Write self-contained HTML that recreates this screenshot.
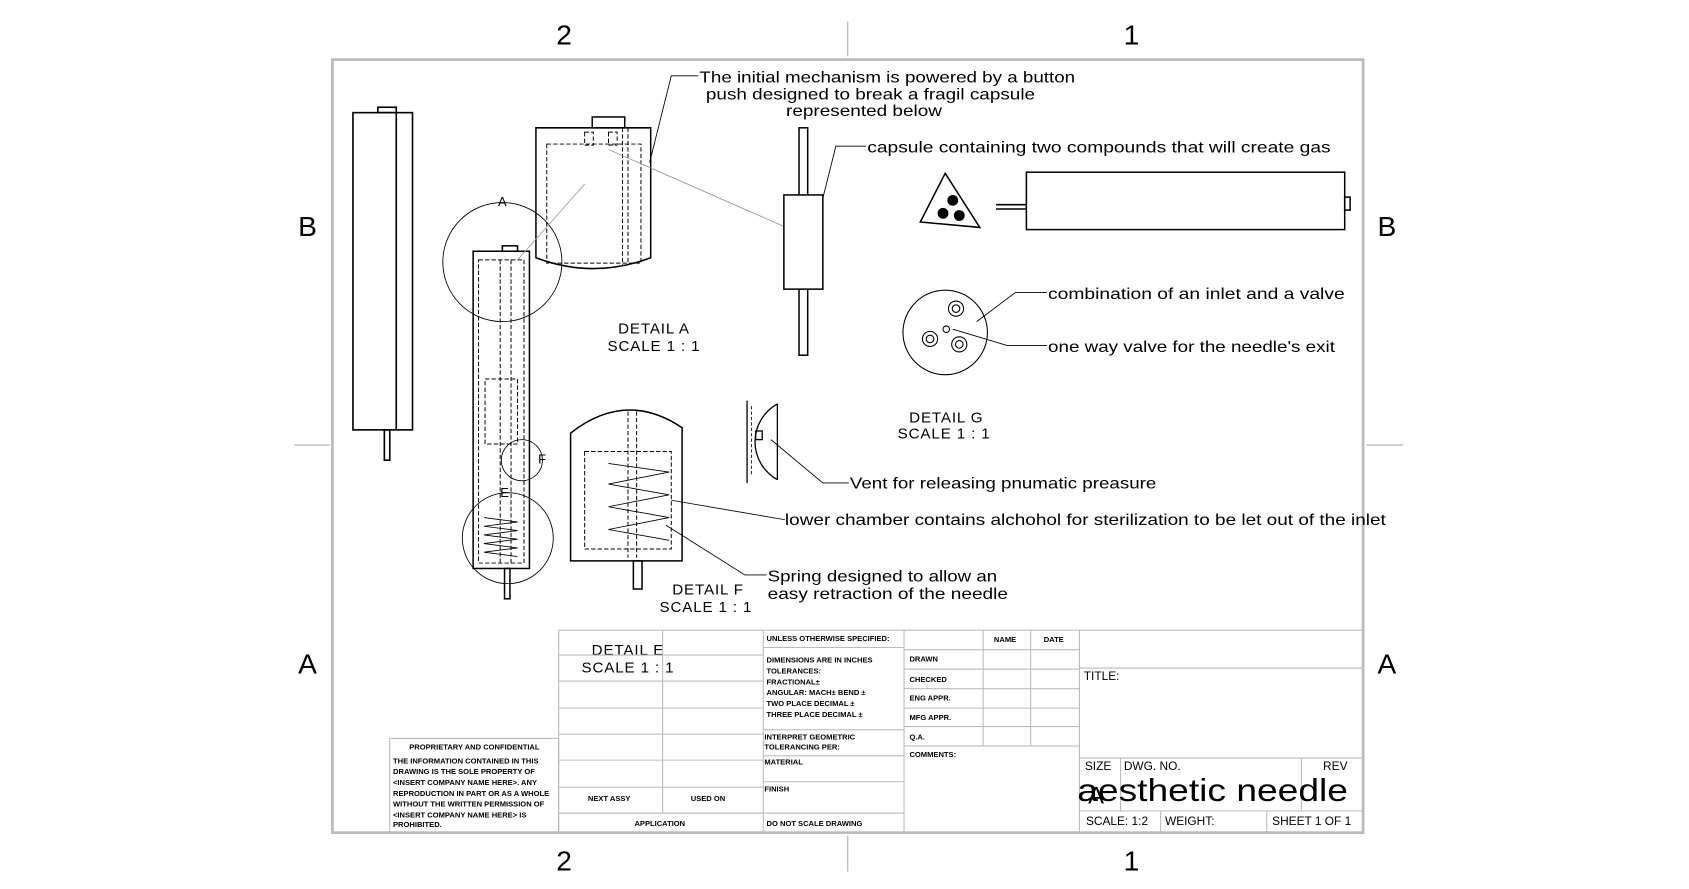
<!DOCTYPE html>
<html><head><style>
html,body{margin:0;padding:0;background:#fff;}
svg{display:block;}
text{font-family:"Liberation Sans",sans-serif;fill:#000;}
</style></head><body>
<svg width="1689" height="889" viewBox="0 0 1560 821" xmlns="http://www.w3.org/2000/svg">
<rect width="1560" height="821" fill="#fff"/>
<g stroke="#aaa" stroke-width="1">
<line x1="783" y1="20" x2="783" y2="52"/><line x1="783" y1="772" x2="783" y2="805"/>
<line x1="272" y1="411" x2="305" y2="411"/><line x1="1262" y1="411" x2="1296" y2="411"/>
</g>
<g font-size="26" text-anchor="middle">
<text x="521" y="41">2</text><text x="1045" y="41">1</text>
<text x="521" y="804">2</text><text x="1045" y="804">1</text>
<text x="284" y="218">B</text><text x="1281" y="218">B</text>
<text x="284" y="622">A</text><text x="1281" y="622">A</text>
</g>
<rect x="307" y="55" width="952" height="714" fill="none" stroke="#bbb" stroke-width="2.5"/>

<g fill="none" stroke="#000" stroke-width="1.5">
<rect x="326" y="104" width="55" height="293"/>
<line x1="366" y1="104" x2="366" y2="397"/>
<rect x="349" y="99" width="17" height="5"/>
<rect x="355" y="397" width="5" height="28"/>
</g>
<g fill="none" stroke="#000" stroke-width="1.4">
<rect x="437" y="232" width="52" height="293"/>
<rect x="464" y="227" width="14" height="5"/>
<rect x="466" y="525" width="5" height="28"/>
</g>
<g fill="none" stroke="#000" stroke-width="0.9" stroke-dasharray="4,2">
<rect x="442" y="240" width="42" height="280"/>
<line x1="462" y1="240" x2="462" y2="520"/>
<line x1="472" y1="240" x2="472" y2="520"/>
<rect x="448" y="350" width="30" height="60"/>
</g>
<g fill="none" stroke="#000" stroke-width="0.8">
<path d="M447 478 L478 482 L447 486 L478 490 L447 494 L478 498 L447 502 L478 506 L447 510 L478 514"/>
<circle cx="464" cy="242" r="55"/>
<circle cx="469" cy="497" r="42"/>
<circle cx="482" cy="425" r="19"/>
</g>
<text x="460" y="190" font-size="12">A</text>
<text x="462" y="459" font-size="12">E</text>
<text x="497" y="428" font-size="12">F</text>

<g fill="none" stroke="#000" stroke-width="1.4">
<path d="M495 118 L601 118 L601 238 Q548 258 495 238 Z"/>
<rect x="547" y="108" width="30" height="10"/>
</g>
<g fill="none" stroke="#000" stroke-width="0.9" stroke-dasharray="4,2">
<rect x="505" y="133" width="87" height="110"/>
<line x1="575" y1="118" x2="575" y2="245"/>
<line x1="580" y1="118" x2="580" y2="245"/>
<rect x="540" y="122" width="8" height="12"/><rect x="562" y="122" width="8" height="12"/>
</g>
<line x1="540" y1="170" x2="478" y2="240" stroke="#999" stroke-width="0.8"/>
<line x1="562" y1="138" x2="733" y2="213" stroke="#999" stroke-width="0.8"/>
<g font-size="14" text-anchor="middle" letter-spacing="0.8">
<text x="604" y="308">DETAIL A</text><text x="604" y="324">SCALE 1 : 1</text>
<text x="654" y="549">DETAIL F</text><text x="652" y="565">SCALE 1 : 1</text>
<text x="580" y="605">DETAIL E</text><text x="580" y="621">SCALE 1 : 1</text>
<text x="874" y="390">DETAIL G</text><text x="872" y="405">SCALE 1 : 1</text>
</g>
<polyline points="600,150 620,70 645,70" fill="none" stroke="#000" stroke-width="0.8"/>
<g font-size="14.5" lengthAdjust="spacingAndGlyphs">
<text x="646" y="76" textLength="347" lengthAdjust="spacingAndGlyphs">The initial mechanism is powered by a button</text>
<text x="652" y="92" textLength="304" lengthAdjust="spacingAndGlyphs">push designed to break a fragil capsule</text>
<text x="726" y="107" textLength="144" lengthAdjust="spacingAndGlyphs">represented below</text>
</g>
<g fill="none" stroke="#000" stroke-width="1.4">
<rect x="738" y="118" width="8" height="210"/>
<rect x="724" y="180" width="36" height="87" fill="#fff"/>
</g>
<polyline points="760,183 772,135 800,135" fill="none" stroke="#000" stroke-width="0.8"/>
<text x="801" y="141" font-size="14.5" textLength="428" lengthAdjust="spacingAndGlyphs">capsule containing two compounds that will create gas</text>
<g fill="none" stroke="#000" stroke-width="1.4">
<rect x="948" y="159" width="294" height="53"/>
<rect x="1242" y="182" width="5" height="12"/>
<line x1="920" y1="189" x2="948" y2="189"/><line x1="920" y1="193" x2="948" y2="193"/>
<polygon points="873,160 850,205 905,210"/>
</g>
<g fill="#000"><circle cx="880" cy="185" r="5"/><circle cx="871" cy="197" r="5"/><circle cx="886" cy="199" r="5"/></g>
<g fill="none" stroke="#000" stroke-width="1">
<circle cx="873" cy="307" r="39"/>
<circle cx="883" cy="285" r="7"/><circle cx="883" cy="285" r="3.5"/>
<circle cx="859" cy="313" r="7"/><circle cx="859" cy="313" r="3.5"/>
<circle cx="886" cy="318" r="7"/><circle cx="886" cy="318" r="3.5"/>
<circle cx="874" cy="304" r="3"/>
</g>
<polyline points="902,297 938,270 967,270" fill="none" stroke="#000" stroke-width="0.8"/>
<polyline points="880,304 930,319 967,319" fill="none" stroke="#000" stroke-width="0.8"/>
<g font-size="14.5">
<text x="968" y="276" textLength="274" lengthAdjust="spacingAndGlyphs">combination of an inlet and a valve</text>
<text x="968" y="325" textLength="265" lengthAdjust="spacingAndGlyphs">one way valve for the needle's exit</text>
<text x="785" y="451" textLength="283" lengthAdjust="spacingAndGlyphs">Vent for releasing pnumatic preasure</text>
<text x="725" y="485" textLength="555" lengthAdjust="spacingAndGlyphs">lower chamber contains alchohol  for sterilization to be let out of the inlet</text>
<text x="709" y="537" textLength="212" lengthAdjust="spacingAndGlyphs">Spring designed to allow an</text>
<text x="709" y="553" textLength="222" lengthAdjust="spacingAndGlyphs">easy retraction of the needle</text>
</g>
<g fill="none" stroke="#000" stroke-width="1.2">
<path d="M718 373 A40 40 0 0 0 718 443"/>
<line x1="718" y1="373" x2="718" y2="443"/>
<line x1="690" y1="370" x2="690" y2="446"/>
<rect x="698" y="398" width="6" height="8"/>
</g>
<line x1="694" y1="375" x2="694" y2="440" stroke="#000" stroke-width="0.8" stroke-dasharray="3,2"/>
<polyline points="712,406 760,446 784,446" fill="none" stroke="#000" stroke-width="0.8"/>
<g fill="none" stroke="#000" stroke-width="1.4">
<path d="M527 400 Q578 360 630 395 L630 518 L527 518 Z"/>
<rect x="585" y="518" width="8" height="26"/>
</g>
<g fill="none" stroke="#000" stroke-width="0.9" stroke-dasharray="4,2">
<rect x="540" y="417" width="80" height="90"/>
<line x1="580" y1="380" x2="580" y2="515"/><line x1="588" y1="380" x2="588" y2="515"/>
</g>
<path d="M562 428 L618 436 L562 447 L618 457 L562 468 L618 478 L562 489 L618 499" fill="none" stroke="#000" stroke-width="0.8"/>
<line x1="620" y1="462" x2="725" y2="480" stroke="#000" stroke-width="0.8"/>
<polyline points="615,485 688,531 708,531" fill="none" stroke="#000" stroke-width="0.8"/>

<g fill="none" stroke="#bbb" stroke-width="1">
<rect x="516" y="582" width="743" height="187"/>
<line x1="705" y1="582" x2="705" y2="769"/>
<line x1="835" y1="582" x2="835" y2="769"/>
<line x1="997" y1="582" x2="997" y2="769"/>
<line x1="612" y1="582" x2="612" y2="751"/>
<line x1="516" y1="605" x2="705" y2="605"/><line x1="516" y1="629" x2="705" y2="629"/>
<line x1="516" y1="654" x2="705" y2="654"/><line x1="516" y1="678" x2="705" y2="678"/>
<line x1="516" y1="702" x2="705" y2="702"/><line x1="516" y1="727" x2="705" y2="727"/>
<line x1="516" y1="751" x2="705" y2="751"/>
<line x1="705" y1="598" x2="835" y2="598"/><line x1="705" y1="674" x2="835" y2="674"/>
<line x1="705" y1="698" x2="835" y2="698"/><line x1="705" y1="722" x2="835" y2="722"/>
<line x1="705" y1="751" x2="835" y2="751"/>
<line x1="908" y1="582" x2="908" y2="689"/><line x1="952" y1="582" x2="952" y2="689"/>
<line x1="835" y1="600" x2="997" y2="600"/><line x1="835" y1="618" x2="997" y2="618"/>
<line x1="835" y1="636" x2="997" y2="636"/><line x1="835" y1="654" x2="997" y2="654"/>
<line x1="835" y1="671" x2="997" y2="671"/><line x1="835" y1="689" x2="997" y2="689"/>
<line x1="997" y1="617" x2="1259" y2="617"/><line x1="997" y1="700" x2="1259" y2="700"/>
<line x1="997" y1="749" x2="1259" y2="749"/>
<line x1="1035" y1="700" x2="1035" y2="749"/><line x1="1202" y1="700" x2="1202" y2="749"/>
<line x1="1072" y1="749" x2="1072" y2="769"/><line x1="1170" y1="749" x2="1170" y2="769"/>
<rect x="360" y="682" width="156" height="87"/>
</g>
<g font-size="7" font-weight="bold">
<text x="708" y="592">UNLESS OTHERWISE SPECIFIED:</text>
<text x="708" y="612">DIMENSIONS ARE IN INCHES</text>
<text x="708" y="622">TOLERANCES:</text>
<text x="708" y="632">FRACTIONAL±</text>
<text x="708" y="642">ANGULAR: MACH±   BEND  ±</text>
<text x="708" y="652">TWO PLACE DECIMAL   ±</text>
<text x="708" y="662">THREE PLACE DECIMAL  ±</text>
<text x="706" y="683">INTERPRET GEOMETRIC</text>
<text x="706" y="692">TOLERANCING PER:</text>
<text x="706" y="706">MATERIAL</text>
<text x="706" y="731">FINISH</text>
<text x="708" y="763">DO NOT SCALE DRAWING</text>
<text x="586" y="763">APPLICATION</text>
<text x="543" y="740">NEXT ASSY</text>
<text x="638" y="740">USED ON</text>
<text x="918" y="593">NAME</text><text x="964" y="593">DATE</text>
<text x="840" y="611">DRAWN</text><text x="840" y="630">CHECKED</text>
<text x="840" y="647">ENG APPR.</text><text x="840" y="665">MFG APPR.</text>
<text x="840" y="683">Q.A.</text><text x="840" y="699">COMMENTS:</text>
<text x="378" y="692">PROPRIETARY AND CONFIDENTIAL</text>
<text x="363" y="705">THE INFORMATION CONTAINED IN THIS</text>
<text x="363" y="715">DRAWING IS THE SOLE PROPERTY OF</text>
<text x="363" y="725">&lt;INSERT COMPANY NAME HERE&gt;.  ANY</text>
<text x="363" y="735">REPRODUCTION IN PART OR AS A WHOLE</text>
<text x="363" y="745">WITHOUT THE WRITTEN PERMISSION OF</text>
<text x="363" y="755">&lt;INSERT COMPANY NAME HERE&gt; IS</text>
<text x="363" y="764">PROHIBITED.</text>
</g>
<g font-size="11">
<text x="1001" y="628">TITLE:</text>
<text x="1002" y="711">SIZE</text><text x="1038" y="711">DWG.  NO.</text><text x="1222" y="711">REV</text>
<text x="1003" y="762">SCALE: 1:2</text><text x="1076" y="762">WEIGHT:</text><text x="1175" y="762">SHEET 1 OF 1</text>
</g>
<text x="1005" y="742" font-size="22">A</text>
<text x="995" y="740" font-size="29" textLength="250" lengthAdjust="spacingAndGlyphs">aesthetic needle</text>
</svg>
</body></html>
